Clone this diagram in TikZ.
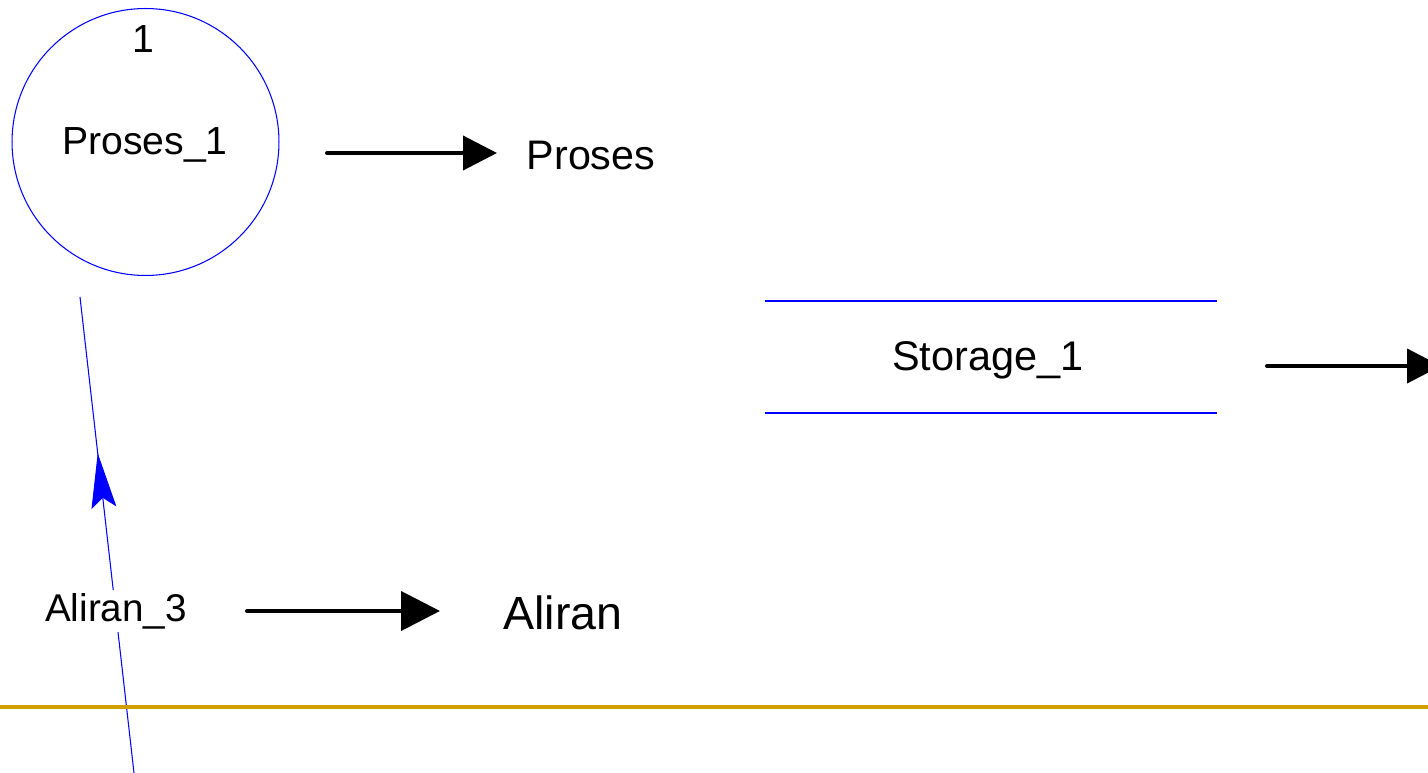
\documentclass[tikz,border=0pt]{standalone}
\usepackage{fontspec}
\setmainfont{Liberation Sans}
\usetikzlibrary{arrows.meta,decorations.markings}
\definecolor{flowblue}{RGB}{0,0,255}
\definecolor{gold}{RGB}{208,158,0}
\tikzset{
  legendarrow/.style={line width=2.3pt, line cap=round, -{Triangle[length=0.68cm,width=0.68cm]}},
  legendarrowb/.style={line width=2.3pt, line cap=round, -{Triangle[length=0.78cm,width=0.78cm]}},
  txt/.style={inner sep=1pt, font=\fontsize{22.3}{26}\selectfont},
  bigtxt/.style={inner sep=1pt, font=\fontsize{23.5}{28}\selectfont},
  thinblue/.style={draw=flowblue, line width=0.6pt},
}
\begin{document}
\begin{tikzpicture}[x=0.02cm,y=-0.02cm]
\useasboundingbox (0,0) rectangle (1428,773);
% process circle
\node[circle, thinblue, minimum size=5.34cm, inner sep=0pt] (p1) at (145.5,142) {};
\node[txt] (p1num) at (143,39) {1};
\node[txt] (p1name) at (145,145) {Proses\_1};
% legend: Proses
\coordinate (pa) at (327,153);
\coordinate (pb) at (497,153);
\draw[legendarrow] (pa) -- (pb);
\node[bigtxt] (proses) at (591,156) {Proses};
% storage
\coordinate (s1) at (765,301);
\coordinate (s2) at (1217,301);
\coordinate (s3) at (765,413);
\coordinate (s4) at (1217,413);
\draw[thinblue] (s1) -- (s2);
\draw[thinblue] (s3) -- (s4);
\node[txt, font=\fontsize{23.6}{28}\selectfont] (storage) at (988,360) {Storage\_1};
\coordinate (sa) at (1267,366);
\coordinate (sb) at (1441,366);
\draw[legendarrow] (sa) -- (sb);
% flow
\coordinate (fa) at (134,773);
\coordinate (fb) at (80,297);
\draw[thinblue, postaction={decorate}, decoration={markings,
  mark=at position 0.672 with {\arrow[flowblue]{Stealth[length=1.1cm,width=0.5cm,inset=0.2cm]}}}] (fa) -- (fb);
\node[txt, fill=white, inner sep=2pt, font=\fontsize{22}{26}\selectfont] (aliran3) at (116,611) {Aliran\_3};
% legend: Aliran
\coordinate (aa) at (247,611);
\coordinate (ab) at (440,611);
\draw[legendarrowb] (aa) -- (ab);
\node[txt, font=\fontsize{26.5}{31}\selectfont] (aliran) at (563,613) {Aliran};
% separator
\coordinate (g1) at (0,707);
\coordinate (g2) at (1428,707);
\draw[gold, line width=2.2pt] (g1) -- (g2);
\end{tikzpicture}
\end{document}
